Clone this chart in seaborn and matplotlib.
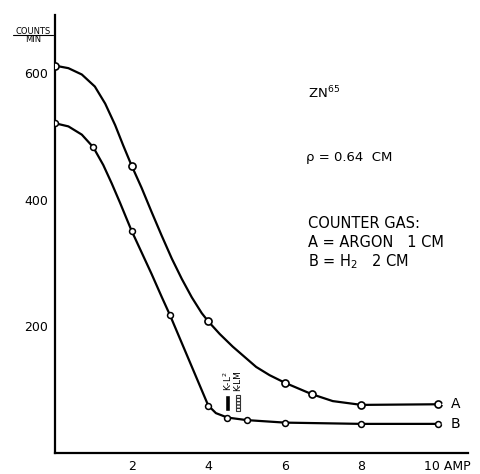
import matplotlib
matplotlib.use("Agg")
import matplotlib.pyplot as plt
import seaborn as sns
import pandas as pd
from matplotlib.lines import Line2D

# measured points (open circles)
amp_a = [0, 2, 4, 6, 6.7, 8, 10]
counts_a = [612, 454, 208, 111, 93, 76, 77]
amp_b = [0, 1, 2, 3, 4, 4.5, 5, 6, 8, 10]
counts_b = [521, 483, 351, 218, 75, 56, 52, 48, 46, 46]

# the hand drawn curves
trace_a_x = [0, 0.35, 0.70, 1.04, 1.31, 1.57, 1.78, 2, 2.26, 2.52, 2.78, 3.05, 3.31,
             3.57, 3.83, 4, 4.3, 4.64, 5.25, 5.6, 6, 6.7, 7.25, 8, 10]
trace_a_y = [612, 608, 598, 579, 552, 518, 486, 454, 419, 381, 344, 307, 275,
             246, 221, 208, 188, 168, 136, 123, 111, 93, 82, 76, 77]
trace_b_x = [0, 0.35, 0.70, 1, 1.26, 1.48, 1.70, 1.87, 2, 2.26, 2.52, 2.79, 3, 4,
             4.2, 4.5, 5, 6, 8, 10]
trace_b_y = [521, 516, 503, 483, 455, 426, 395, 370, 351, 317, 283, 246, 218, 75,
             63, 56, 52, 48, 46, 46]

# K-L2 / K-LM markers
line_x = [4.5, 4.77]
line_lo = 66
line_hi = 92
line_labels = ["K-L$^2$", "K-LM"]

xticks = [2, 4, 6, 8, 10]
yticks = [200, 400, 600]

sns.set_style("white")
plt.rcParams["font.family"] = ["DejaVu Sans"]
plt.rcParams["mathtext.fontset"] = "dejavusans"
plt.rcParams["text.color"] = "black"

fig = plt.figure(figsize=(4.81, 4.74), dpi=100)
ax = fig.add_axes([55 / 481, 21 / 474, 413 / 481, 438 / 474])

curves = pd.DataFrame({"amp": trace_a_x + trace_b_x,
                       "counts": trace_a_y + trace_b_y,
                       "gas": ["A"] * len(trace_a_x) + ["B"] * len(trace_b_x)})
sns.lineplot(data=curves, x="amp", y="counts", units="gas", estimator=None,
             sort=False, color="black", lw=1.6, ax=ax)

sns.scatterplot(x=amp_a, y=counts_a, s=26, facecolor="white", edgecolor="black",
                linewidth=1.2, zorder=3, ax=ax)
sns.scatterplot(x=amp_b, y=counts_b, s=18, facecolor="white", edgecolor="black",
                linewidth=1.1, zorder=3, ax=ax)

# the two short bars
ax.bar(line_x[0], line_hi - line_lo, bottom=line_lo, width=0.13, color="black", zorder=2)
ax.bar(line_x[1], line_hi - line_lo, bottom=line_lo, width=0.11, facecolor="white",
       edgecolor="#333333", hatch="-----", linewidth=0.8, zorder=2)
for xx, lab in zip(line_x, line_labels):
    ax.text(xx, line_hi + 6, lab, rotation=90, ha="center", va="bottom", fontsize=6.5)

# curve letters
ax.annotate("A", xy=(amp_a[-1], counts_a[-1]), xytext=(9, 0), textcoords="offset points",
            va="center", ha="left", fontsize=10,
            arrowprops=dict(arrowstyle="-", lw=1.1, shrinkA=0, shrinkB=3))
ax.annotate("B", xy=(amp_b[-1], counts_b[-1]), xytext=(9, 0), textcoords="offset points",
            va="center", ha="left", fontsize=10,
            arrowprops=dict(arrowstyle="-", lw=1.1, shrinkA=0, shrinkB=3))

ax.set_xlim(0, 10.78)
ax.set_ylim(0, 692)
ax.set_xticks(xticks)
ax.set_xticklabels(["2", "4", "6", "8", ""])
ax.set_yticks(yticks)
ax.set_yticklabels([str(v) for v in yticks])
ax.tick_params(direction="inout", length=10, width=1.4, pad=0, labelsize=9,
               color="black", labelcolor="black")
ax.set_xlabel("")
ax.set_ylabel("")
sns.despine(ax=ax)
for side in ["left", "bottom"]:
    ax.spines[side].set_linewidth(1.6)
    ax.spines[side].set_color("black")

ax.annotate("10 AMP", xy=(10, 0), xycoords="data", xytext=(-10, -5),
            textcoords="offset points", ha="left", va="top", fontsize=9,
            annotation_clip=False)

# unit label top left
fig.text(33 / 481, 1 - 31 / 474, "COUNTS", ha="center", va="center", fontsize=6)
fig.text(33 / 481, 1 - 40 / 474, "MIN", ha="center", va="center", fontsize=6)
fig.add_artist(Line2D([13 / 481, 53 / 481], [1 - 35 / 474, 1 - 35 / 474],
                      color="black", lw=0.8))

# notes
fig.text(308 / 481, 1 - 93 / 474, r"ZN$^{65}$", fontsize=9.5, va="center")
fig.text(306 / 481, 1 - 157 / 474, "ρ = 0.64  CM", fontsize=9.5, va="center")
fig.text(308 / 481, 1 - 223 / 474, "COUNTER GAS:", fontsize=10.5, va="center")
fig.text(308 / 481, 1 - 243 / 474, "A = ARGON   1 CM", fontsize=10.5, va="center")
fig.text(308 / 481, 1 - 262 / 474, r"B = H$_2$   2 CM", fontsize=10.5, va="center")

fig.savefig("out.png", dpi=100)
